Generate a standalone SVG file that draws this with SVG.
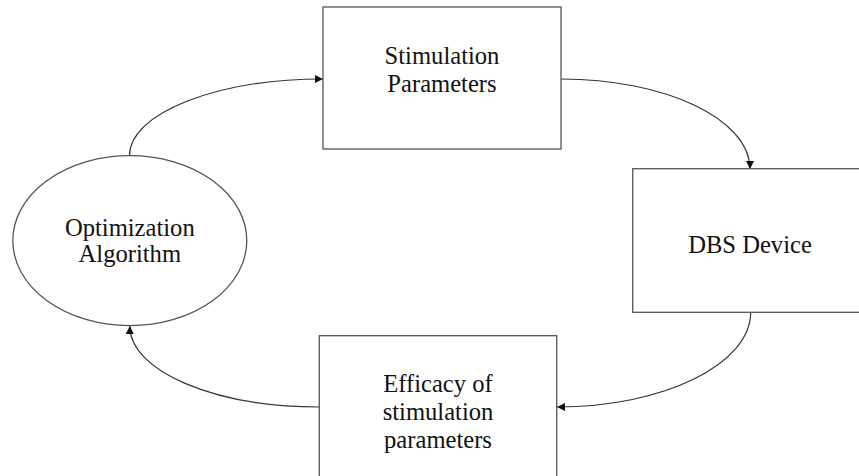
<svg xmlns="http://www.w3.org/2000/svg" width="859" height="476" viewBox="0 0 859 476">
<style>
.box{fill:#fff;stroke:#555;stroke-width:1.3}
.lbl{font-family:"Liberation Serif","Times New Roman",serif;font-size:24.6px;fill:#111;text-anchor:middle}
.conn{fill:none;stroke:#333;stroke-width:1.2;marker-end:url(#arr)}
</style>
<defs>
<marker id="arr" viewBox="0 0 10 10" refX="10" refY="5" markerWidth="11" markerHeight="8" markerUnits="userSpaceOnUse" orient="auto">
<path d="M0,0 L10,5 L0,10 z" fill="#111"/>
</marker>
</defs>
<rect width="859" height="476" fill="#fff"/>
<g id="connectors">
<path class="conn" d="M129.5,155.7 C129.5,113.4 216.2,79 323,79"/>
<path class="conn" d="M561,79 C665,79 750,119 750,169"/>
<path class="conn" d="M750.7,312.3 C750.7,364 664,407 557,407"/>
<path class="conn" d="M319.3,407 C214,407 129.8,371 129.8,326"/>
</g>
<g id="node-stim">
<rect class="box" x="323" y="7" width="238" height="142"/>
<text class="lbl" x="442" y="64">Stimulation</text>
<text class="lbl" x="442" y="92">Parameters</text>
</g>
<g id="node-dbs">
<rect class="box" x="632.7" y="168.7" width="234" height="143.6"/>
<text class="lbl" x="750" y="253">DBS Device</text>
</g>
<g id="node-efficacy">
<rect class="box" x="319.3" y="335.7" width="237.4" height="150"/>
<text class="lbl" x="438" y="392">Efficacy of</text>
<text class="lbl" x="438" y="420">stimulation</text>
<text class="lbl" x="438" y="448">parameters</text>
</g>
<g id="node-opt">
<ellipse class="box" cx="129.8" cy="240.7" rx="117" ry="85" stroke-width="1"/>
<text class="lbl" x="129.8" y="236">Optimization</text>
<text class="lbl" x="129.8" y="262">Algorithm</text>
</g>
</svg>
